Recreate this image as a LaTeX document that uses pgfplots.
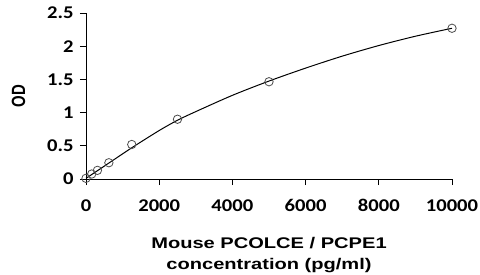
\documentclass[border=0pt]{standalone}
\usepackage{fontspec}
\usepackage{pgfplots}
\pgfplotsset{compat=1.18}
\setmainfont{Liberation Sans}
\newfontfamily\tickfont[FakeStretch=1.15]{Carlito}
\newfontfamily\labfont[FakeStretch=1.3]{Liberation Sans}
\begin{document}
\begin{tikzpicture}
\begin{axis}[
  at={(0,0)}, anchor=south west,
  scale only axis,
  width=366bp, height=166bp,
  xmin=0, xmax=10000, ymin=0, ymax=2.5,
  axis x line=bottom, axis y line=left,
  axis line style={-, line width=1pt},
  xtick={0,2000,4000,6000,8000,10000},
  ytick={0,0.5,1,1.5,2,2.5},
  yticklabels={0,0.5,1,1.5,2,2.5},
  xticklabels={0,2000,4000,6000,8000,10000},
  scaled x ticks=false,
  tick align=outside,
  major tick length=6bp,
  tick style={line width=1pt, black},
  ticklabel style={font=\tickfont\bfseries\fontsize{18}{20}\selectfont},
  xticklabel style={yshift=-11bp},
  yticklabel style={xshift=-3bp},
  xlabel={Mouse PCOLCE / PCPE1\\concentration (pg/ml)},
  xlabel style={font=\labfont\bfseries\fontsize{15.5}{22}\selectfont, align=center, yshift=-18bp},
  ylabel={\scalebox{1}[1.28]{OD}},
  ylabel style={font=\bfseries\fontsize{15}{16}\selectfont, yshift=15bp},
  clip=false,
]
\addplot[black, line width=1pt, smooth, tension=0.5] coordinates {
  (0,0.01) (625,0.24) (1250,0.47) (2000,0.73) (2500,0.885) (3000,1.015)
  (4000,1.26) (5000,1.475) (6000,1.67) (7000,1.85) (8000,2.01) (9000,2.15) (10000,2.27)
};
\addplot[only marks, mark=o, mark size=4.2bp, black!70, mark options={line width=0.8pt}] coordinates {
  (0,0.01) (156,0.075) (312,0.13) (625,0.245) (1250,0.52) (2500,0.90) (5000,1.465) (10000,2.27)
};
\end{axis}
\pgfresetboundingbox
\path (-86bp,-96bp) rectangle (394bp,179bp);
\end{tikzpicture}
\end{document}
